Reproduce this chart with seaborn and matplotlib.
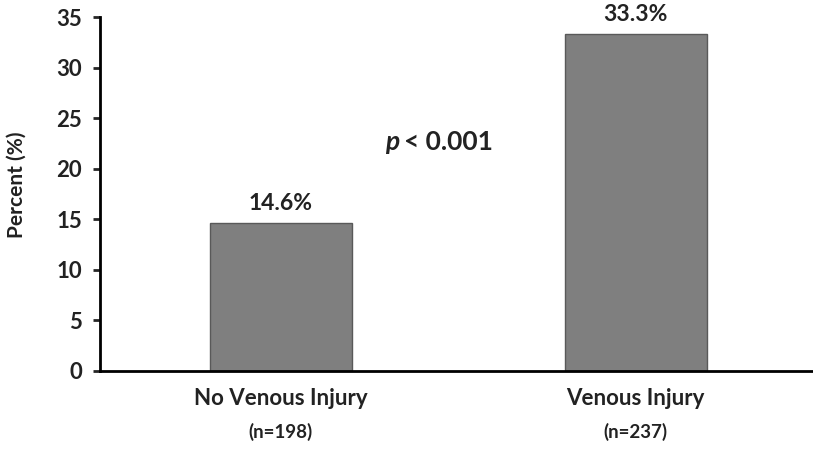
import matplotlib.pyplot as plt
import matplotlib.transforms as mtransforms
import pandas as pd
import seaborn as sns

groups = ["No Venous Injury", "Venous Injury"]
counts = ["(n=198)", "(n=237)"]
percents = [14.6, 33.3]
value_labels = ["14.6%", "33.3%"]

sns.set_style("ticks")
plt.rcParams["font.family"] = ["Lato", "DejaVu Sans"]

df = pd.DataFrame({"group": groups, "percent": percents})
ink = "#222222"

fig = plt.figure(figsize=(8.13, 4.49), dpi=100)
ax = fig.add_axes([0.123, 0.174, 0.877, 0.788])
sns.barplot(data=df, x="group", y="percent", color="#7f7f7f", saturation=1,
            width=0.4, edgecolor="#595959", linewidth=1, ax=ax)

ax.set_ylim(0, 35)
ax.set_yticks(range(0, 36, 5))
ax.set_xlim(-0.51, 1.5)
ax.set_xlabel("")
ax.set_ylabel("Percent (%)", fontsize=15, fontweight="bold", color=ink)
ax.yaxis.set_label_coords(-0.103, 0.525)

for side in ["top", "right"]:
    ax.spines[side].set_visible(False)
for side in ["left", "bottom"]:
    ax.spines[side].set_linewidth(2)
    ax.spines[side].set_color("black")
ax.tick_params(axis="y", length=5, width=2, labelsize=16, pad=8)
ax.tick_params(axis="x", length=0, labelsize=16, pad=12)
for lab in ax.get_yticklabels() + ax.get_xticklabels():
    lab.set_fontweight("bold")
    lab.set_color(ink)

for i, (v, lab) in enumerate(zip(percents, value_labels)):
    ax.annotate(lab, (i, v), xytext=(0, 14), textcoords="offset points",
                ha="center", va="center", fontsize=16.5, fontweight="bold", color=ink)

trans = mtransforms.blended_transform_factory(ax.transData, ax.transAxes)
for i, c in enumerate(counts):
    ax.text(i, -0.172, c, ha="center", va="center", fontsize=13.5,
            fontweight="bold", color=ink, transform=trans)

# p-value note: italic p followed by the rest
ax.annotate("p", (0.45, 22.6), xytext=(-30, 0), textcoords="offset points",
            ha="right", va="center", fontsize=19, fontweight="bold",
            fontstyle="italic", color=ink)
ax.annotate("< 0.001", (0.45, 22.6), xytext=(-26, 0), textcoords="offset points",
            ha="left", va="center", fontsize=19, fontweight="bold", color=ink)

fig.savefig("out.png", dpi=100)
